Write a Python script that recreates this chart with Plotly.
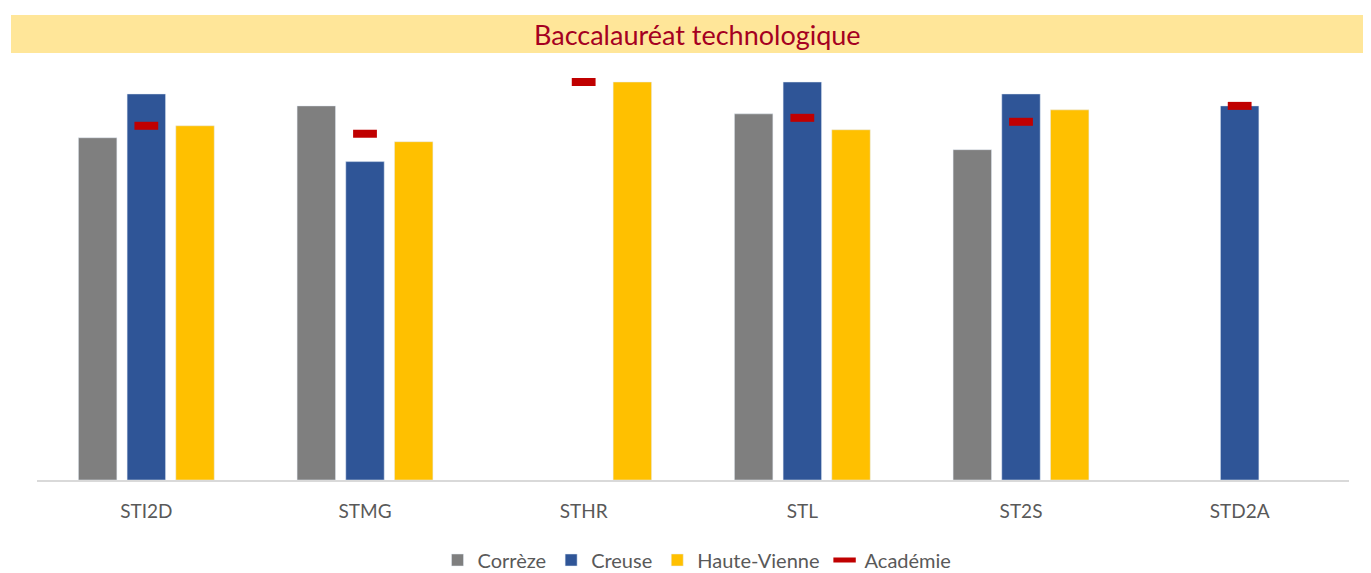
import plotly.graph_objects as go

categories = ["STI2D", "STMG", "STHR", "STL", "ST2S", "STD2A"]
correze = [86, 94, None, 92, 83, None]
creuse = [97, 80, None, 100, 97, 94]
haute_vienne = [89, 85, 100, 88, 93, None]
academie = [89, 87, 100, 91, 90, 94]
title_text = "Baccalauréat technologique"

# page body adds an 8px offset; work in screen pixels and convert
OFF = 8
W, H = 1371 - OFF, 573
plot_left, plot_right, plot_top, plot_bottom = 37, 1349, 60, 480
ml = plot_left - OFF
mr = W - (plot_right - OFF)
mt = plot_top - OFF
mb = H - (plot_bottom - OFF)
ph = plot_bottom - plot_top
pw = plot_right - plot_left
ytop = ph / 3.98

fig = go.Figure()
fig.add_trace(go.Bar(name="Corrèze", x=categories, y=correze, marker_color="#7F7F7F"))
fig.add_trace(go.Bar(name="Creuse", x=categories, y=creuse, marker_color="#2F5597"))
fig.add_trace(go.Bar(name="Haute-Vienne", x=categories, y=haute_vienne, marker_color="#FFC000"))
fig.add_trace(go.Scatter(name="Académie", x=categories, y=academie, mode="markers",
                         marker=dict(symbol="line-ew-open", size=17, color="#C00000",
                                     line=dict(color="#C00000", width=8))))

def sx(px):
    return (px - plot_left) / pw

def sy(py):
    return (plot_bottom - py) / ph

fig.add_shape(type="rect", xref="paper", yref="paper",
              x0=sx(11), x1=sx(1380),
              y0=sy(53), y1=sy(15),
              fillcolor="#FFE699", line=dict(width=0), layer="below")
fig.add_annotation(text=title_text, xref="paper", yref="paper",
                   x=sx(697), y=sy(35),
                   xanchor="center", yanchor="middle", showarrow=False,
                   font=dict(family="Lato, Open Sans, sans-serif", size=27, color="#A50021"))

legend_center_fig = 560 - OFF
fig.update_layout(
    width=W, height=H,
    margin=dict(l=ml, r=mr, t=mt, b=mb),
    paper_bgcolor="white", plot_bgcolor="white",
    barmode="group", bargap=0.332, bargroupgap=0.21,
    font=dict(family="Lato, Open Sans, sans-serif", color="#595959", size=16),
    showlegend=True,
    legend=dict(orientation="h", x=sx(697), xanchor="center",
                yref="container", y=(H - legend_center_fig) / H, yanchor="middle",
                font=dict(size=20, color="#595959"), itemwidth=30,
                traceorder="normal"),
)
fig.update_xaxes(showline=True, linecolor="#D9D9D9", linewidth=2, showgrid=False,
                 ticks="", ticklabelstandoff=13, tickfont=dict(size=19, color="#595959"))
fig.update_yaxes(range=[0, ytop], showticklabels=False, showgrid=False,
                 zeroline=False, showline=False)

fig.write_html("out.html")
